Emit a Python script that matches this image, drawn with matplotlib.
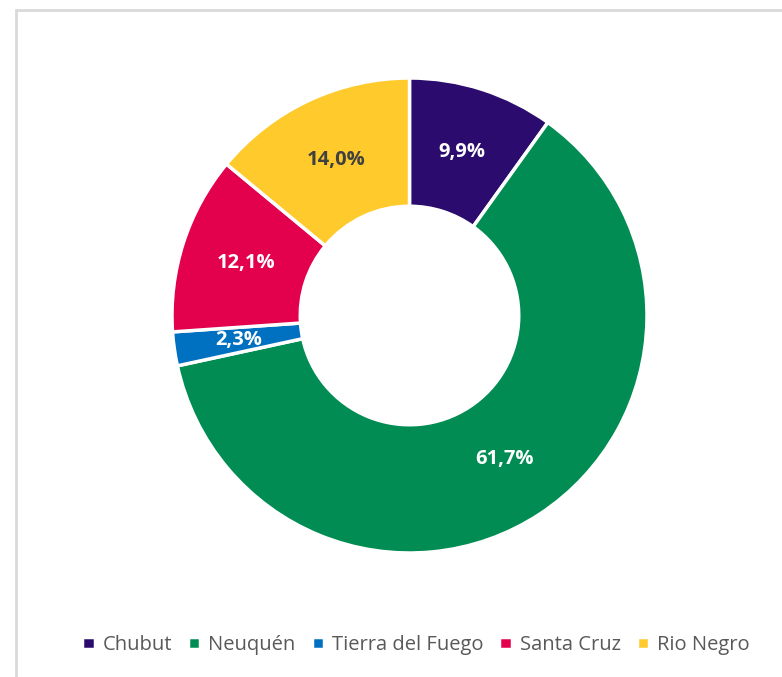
import matplotlib.pyplot as plt
from matplotlib.patches import Rectangle
import numpy as np

provincias = ["Chubut", "Neuquén", "Tierra del Fuego", "Santa Cruz", "Rio Negro"]
porcentajes = [9.9, 61.7, 2.3, 12.1, 14.0]
colores = ["#2b0c6e", "#008c52", "#0070c0", "#e3004c", "#ffca2c"]
color_texto = ["white", "white", "white", "white", "#404040"]

plt.rcParams['font.family'] = ['Open Sans', 'DejaVu Sans']

fig = plt.figure(figsize=(7.82, 6.77), dpi=100)
# marco gris del grafico (recortado a derecha y abajo)
fig.patches.append(Rectangle((16 / 782, -0.1), 1.2, 1 - 10 / 677 + 0.1,
                             transform=fig.transFigure, fill=False,
                             edgecolor="#d9d9d9", linewidth=2))

r = 237.5
ax = fig.add_axes([(409.5 - r) / 782, (677 - 315.5 - r) / 677, 2 * r / 782, 2 * r / 677])
wedges, texts = ax.pie(porcentajes, colors=colores, startangle=90, counterclock=False,
                       radius=1, wedgeprops=dict(width=0.54, edgecolor="white", linewidth=2.5))
ax.set_xlim(-1, 1)
ax.set_ylim(-1, 1)
ax.set_aspect("equal")

ang = 90.0
for w, p, c in zip(wedges, porcentajes, color_texto):
    mid = np.deg2rad(ang - p * 3.6 / 2)
    ang -= p * 3.6
    ax.text(0.725 * np.cos(mid), 0.725 * np.sin(mid), f"{p:.1f}%".replace(".", ","),
            ha="center", va="center", fontsize=14.5, fontweight="bold", color=c)

fig.legend(wedges, provincias, loc="center", bbox_to_anchor=(416 / 782, 1 - 645 / 677),
           ncol=5, frameon=False, handlelength=0.6, handleheight=0.6, handletextpad=0.4,
           columnspacing=0.8, fontsize=14.5, labelcolor="#595959")

fig.savefig("out.png", dpi=100)
